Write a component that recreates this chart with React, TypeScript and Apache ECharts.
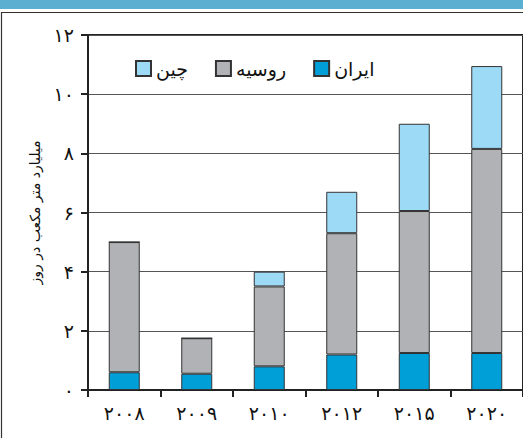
import React, { useEffect, useRef } from "react";
import * as echarts from "echarts";

const categories = ["۲۰۰۸", "۲۰۰۹", "۲۰۱۰", "۲۰۱۲", "۲۰۱۵", "۲۰۲۰"];
const iran = [0.6, 0.55, 0.8, 1.2, 1.25, 1.25];
const russia = [4.4, 1.2, 2.7, 4.1, 4.8, 6.9];
const china = [0, 0, 0.5, 1.4, 2.95, 2.8];
const yTickLabels = ["۰", "۲", "۴", "۶", "۸", "۱۰", "۱۲"];
const seriesNames = { iran: "ایران", russia: "روسیه", china: "چین" };
const yAxisTitle = "میلیارد متر مکعب در روز";

const FONT = "'DejaVu Sans', sans-serif";

export default function App() {
  const ref = useRef<HTMLDivElement>(null);
  useEffect(() => {
    if (!ref.current) return;
    const chart = echarts.init(ref.current, null, { renderer: "svg" });
    const border = { borderColor: "#333", borderWidth: 1 };
    chart.setOption({
      animation: false,
      backgroundColor: "#fff",
      textStyle: { fontFamily: FONT },
      graphic: [
        { type: "rect", shape: { x: 0, y: 0, width: 523, height: 9 }, style: { fill: "#5BAFD1" }, z: 0 },
        {
          type: "rect",
          shape: { x: 1.5, y: 12.5, width: 700, height: 700 },
          style: { fill: "none", stroke: "#333", lineWidth: 1.2 },
          z: 0,
        },
      ],
      legend: {
        left: 130,
        top: 54,
        itemWidth: 15,
        itemHeight: 15,
        itemGap: 27,
        icon: "rect",
        data: [seriesNames.china, seriesNames.russia, seriesNames.iran],
        textStyle: { fontFamily: FONT, fontSize: 19, color: "#111" },
      },
      grid: {
        left: 88,
        right: -4,
        top: 35,
        bottom: 48,
        show: true,
        borderColor: "#222",
        borderWidth: 2,
        containLabel: false,
      },
      xAxis: {
        type: "category",
        data: categories,
        axisLine: { lineStyle: { color: "#222", width: 2 } },
        axisTick: { show: true, length: 7, lineStyle: { color: "#222", width: 2 } },
        axisLabel: { fontFamily: FONT, fontSize: 19, color: "#111", margin: 13 },
      },
      yAxis: {
        type: "value",
        min: 0,
        max: 12,
        interval: 2,
        name: yAxisTitle,
        nameLocation: "middle",
        nameRotate: 90,
        nameGap: 46,
        nameTextStyle: { fontFamily: FONT, fontSize: 14, color: "#111" },
        axisLine: { show: true, lineStyle: { color: "#222", width: 2 } },
        axisTick: { show: true, length: 7, lineStyle: { color: "#222", width: 2 } },
        axisLabel: {
          fontFamily: FONT,
          fontSize: 19,
          color: "#111",
          margin: 14,
          formatter: (v: number) => yTickLabels[Math.round(v / 2)] ?? "",
        },
        splitLine: { show: true, lineStyle: { color: "#555", width: 1 } },
      },
      series: [
        {
          name: seriesNames.iran,
          type: "bar",
          stack: "total",
          barWidth: 31,
          data: iran,
          itemStyle: { color: "#009FD8", ...border },
        },
        {
          name: seriesNames.russia,
          type: "bar",
          stack: "total",
          barWidth: 31,
          data: russia,
          itemStyle: { color: "#B1B2B5", ...border },
        },
        {
          name: seriesNames.china,
          type: "bar",
          stack: "total",
          barWidth: 31,
          data: china,
          itemStyle: { color: "#9DDAF6", ...border },
        },
      ],
    });
    return () => chart.dispose();
  }, []);
  return (
    <div
      ref={ref}
      style={{ position: "absolute", left: 0, top: 0, width: 523, height: 438 }}
    />
  );
}
